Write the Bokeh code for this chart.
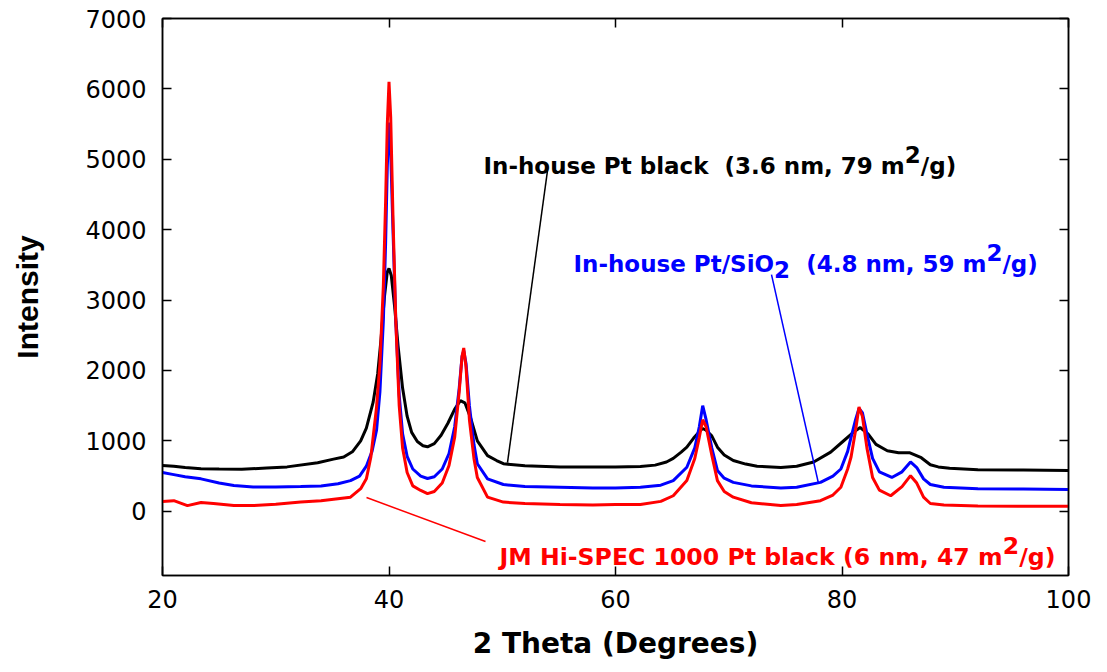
from bokeh.plotting import figure
from bokeh.models import Range1d, FixedTicker, LinearAxis, Label
from bokeh.embed import file_html
from bokeh.resources import INLINE

# ---------------- data ----------------
black_x = [20.0, 21.0, 22.0, 23.4, 25.0, 27.0, 29.2, 31.0, 33.7, 35.1, 36.0, 36.8, 37.5, 38.0, 38.6,
           39.0, 39.3, 39.6, 39.85, 40.0, 40.2, 40.5, 40.8, 41.2, 41.6, 42.0, 42.5, 43.0, 43.4, 44.0,
           44.6, 45.2, 45.8, 46.3, 46.7, 47.2, 47.8, 48.7, 49.5, 50.1, 52.0, 55.1, 58.0, 60.0, 62.2,
           63.5, 64.5, 65.1, 65.8, 66.3, 66.9, 67.4, 67.7, 68.0, 68.5, 69.0, 69.6, 70.4, 71.5, 72.5,
           74.6, 76.0, 77.5, 79.0, 80.0, 81.0, 81.6, 82.3, 83.0, 84.0, 85.0, 86.0, 87.0, 87.8, 88.5,
           89.5, 92.0, 96.0, 100.0]
black_y = [650, 640, 620, 605, 600, 595, 615, 630, 690, 740, 770, 850, 1000, 1180, 1550,
           1950, 2450, 3050, 3400, 3450, 3350, 2900, 2350, 1750, 1350, 1120, 990, 930, 915, 960,
           1080, 1250, 1450, 1570, 1540, 1330, 1000, 790, 720, 675, 645, 630, 630, 630, 635,
           655, 700, 750, 840, 910, 1040, 1130, 1175, 1150, 1070, 910, 800, 720, 670, 640,
           620, 640, 700, 840, 980, 1120, 1190, 1100, 950, 860, 830, 830, 760, 660, 630,
           610, 590, 585, 580]

blue_x = [20.0, 21.0, 22.0, 23.4, 25.0, 26.3, 28.0, 30.0, 32.2, 34.0, 35.5, 36.6, 37.4, 38.0, 38.5,
          38.9, 39.2, 39.5, 39.7, 39.85, 40.0, 40.15, 40.35, 40.6, 40.9, 41.2, 41.6, 42.1, 42.8, 43.4,
          44.0, 44.7, 45.3, 45.8, 46.2, 46.45, 46.6, 46.8, 47.1, 47.5, 47.8, 48.7, 50.1, 52.0, 55.1,
          58.0, 60.0, 62.2, 64.0, 65.1, 66.3, 67.0, 67.4, 67.7, 68.0, 68.5, 69.0, 69.6, 70.4, 72.0,
          74.6, 76.0, 78.1, 79.2, 79.9, 80.5, 80.8, 81.2, 81.5, 81.8, 82.2, 82.7, 83.3, 84.4, 85.3,
          86.05, 86.6, 87.2, 87.8, 89.0, 92.0, 96.0, 100.0]
blue_y = [550, 520, 490, 460, 400, 365, 345, 345, 350, 360, 390, 435, 500, 640, 850,
          1150, 1700, 2700, 3800, 4900, 5520, 5100, 4000, 2700, 1650, 1100, 780, 600, 500, 465,
          490, 600, 820, 1200, 1750, 2200, 2280, 2100, 1500, 950, 675, 460, 380, 350, 340,
          330, 330, 340, 370, 435, 625, 900, 1200, 1500, 1300, 900, 580, 470, 410, 360,
          330, 340, 410, 500, 600, 850, 1050, 1300, 1460, 1400, 1100, 750, 560, 480, 560,
          700, 620, 460, 380, 340, 320, 315, 310]

red_x = [20.0, 21.0, 22.2, 23.4, 24.5, 26.3, 28.0, 30.0, 32.2, 34.0, 36.6, 37.5, 38.0, 38.4, 38.9,
         39.2, 39.5, 39.7, 39.85, 40.0, 40.15, 40.35, 40.6, 40.9, 41.2, 41.6, 42.1, 42.8, 43.4, 44.0,
         44.7, 45.3, 45.8, 46.2, 46.45, 46.6, 46.8, 47.1, 47.5, 47.8, 48.7, 50.1, 52.0, 55.1, 58.0,
         60.0, 62.2, 64.0, 65.1, 66.3, 67.0, 67.4, 67.7, 68.0, 68.5, 69.0, 69.6, 70.4, 72.0, 74.6,
         76.0, 78.1, 79.2, 79.9, 80.5, 80.8, 81.2, 81.5, 81.8, 82.2, 82.7, 83.3, 84.3, 85.3, 86.05,
         86.6, 87.2, 87.8, 89.0, 92.0, 96.0, 100.0]
red_y = [140, 150, 80, 125, 110, 80, 80, 100, 130, 150, 200, 320, 460, 770, 1480,
         2100, 3200, 4400, 5500, 6100, 5600, 4200, 2700, 1500, 900, 550, 360, 295, 250, 280,
         400, 650, 1050, 1700, 2200, 2320, 2050, 1300, 750, 480, 200, 130, 110, 95, 90,
         95, 95, 140, 220, 435, 750, 1050, 1300, 1200, 800, 435, 280, 200, 120, 80,
         95, 150, 230, 340, 600, 770, 1150, 1480, 1350, 900, 480, 300, 220, 350, 505,
         400, 200, 110, 90, 75, 70, 70]

x_ticks = [20, 40, 60, 80, 100]
y_ticks = [0, 1000, 2000, 3000, 4000, 5000, 6000, 7000]

NB = "\u00a0"
black_label = ["In-house Pt black" + NB + NB + "(3.6 nm, 79 m", "2", "/g)"]
blue_label = ["In-house Pt/SiO", "2", NB + NB + "(4.8 nm, 59 m", "2", "/g)"]
red_label = ["JM Hi-SPEC 1000 Pt black (6 nm, 47 m", "2", "/g)"]

# ---------------- styling helpers ----------------
BOLD_W = {' ': 0.348, NB: 0.348, '(': 0.457, ')': 0.457, ',': 0.380, '-': 0.416, '.': 0.380,
          '/': 0.366, 'C': 0.734, 'E': 0.683, 'H': 0.838, 'I': 0.372, 'J': 0.372, 'M': 0.995,
          'O': 0.850, 'P': 0.733, 'S': 0.720, 'a': 0.675, 'b': 0.716, 'c': 0.593, 'e': 0.678,
          'g': 0.716, 'h': 0.712, 'i': 0.343, 'k': 0.665, 'l': 0.343, 'm': 1.042, 'n': 0.712,
          'o': 0.687, 's': 0.595, 't': 0.478, 'u': 0.712}


def text_w(s, fs):
    return sum(BOLD_W.get(c, 0.696) for c in s) * fs


X0, X1, Y0, Y1 = 20, 100, -913, 7000
p = figure(width=1107, height=672, output_backend="svg", toolbar_location=None,
           x_range=Range1d(X0, X1), y_range=Range1d(Y0, Y1),
           min_border_left=162, min_border_right=39, min_border_top=18, min_border_bottom=97,
           background_fill_color="white", border_fill_color="white")
p.grid.visible = False
p.outline_line_color = "black"
p.outline_line_width = 1.5

TICK_FONT = "DejaVu Sans"
for ax in (p.xaxis[0], p.yaxis[0]):
    ax.major_tick_in = 9
    ax.major_tick_out = 0
    ax.minor_tick_line_color = None
    ax.axis_line_width = 1.5
    ax.major_tick_line_width = 1.5
    ax.major_label_text_font = TICK_FONT
    ax.major_label_text_font_size = "24px"
    ax.major_label_text_color = "black"
    ax.axis_label_text_font_style = "bold"
    ax.axis_label_text_color = "black"

p.xaxis[0].ticker = FixedTicker(ticks=x_ticks)
p.yaxis[0].ticker = FixedTicker(ticks=y_ticks)
p.xaxis[0].axis_label = "2 Theta (Degrees)"
p.xaxis[0].axis_label_text_font = "DejaVu Sans"
p.xaxis[0].axis_label_text_font_size = "28px"
p.xaxis[0].major_label_standoff = 14
p.xaxis[0].axis_label_standoff = 16
p.yaxis[0].axis_label = "Intensity"
p.yaxis[0].axis_label_text_font = "Liberation Sans"
p.yaxis[0].axis_label_text_font_size = "30px"
p.yaxis[0].major_label_standoff = 16
p.yaxis[0].axis_label_standoff = 38

top = LinearAxis(ticker=FixedTicker(ticks=x_ticks), major_label_text_color=None,
                 major_label_text_font_size="1px",
                 major_tick_in=9, major_tick_out=0, minor_tick_line_color=None,
                 axis_line_width=1.5, major_tick_line_width=1.5)
right = LinearAxis(ticker=FixedTicker(ticks=y_ticks), major_label_text_color=None,
                   major_label_text_font_size="1px",
                   major_tick_in=9, major_tick_out=0, minor_tick_line_color=None,
                   axis_line_width=1.5, major_tick_line_width=1.5)
p.add_layout(top, "above")
p.add_layout(right, "right")

# ---------------- curves ----------------
p.line(black_x, black_y, line_color="#000000", line_width=3)
p.line(blue_x, blue_y, line_color="#0000FF", line_width=3)
p.line(red_x, red_y, line_color="#FF0000", line_width=3)


# ---------------- annotations ----------------
def px2x(px):
    return X0 + (px - 162) / 11.325


def px2y(py):
    return (510.7 - py) * 1000 / 70.4


# leader lines
p.segment(x0=[px2x(547)], y0=[px2y(170)], x1=[px2x(507)], y1=[px2y(462)], line_color="black", line_width=1.5)
p.segment(x0=[px2x(771)], y0=[px2y(274)], x1=[px2x(818)], y1=[px2y(483)], line_color="#0000FF", line_width=1.5)
p.segment(x0=[px2x(366)], y0=[px2y(497)], x1=[px2x(485)], y1=[px2y(541)], line_color="#FF0000", line_width=1.5)


def put(s, left_px, base_py, dy, color, fs):
    p.add_layout(Label(x=px2x(left_px), y=px2y(base_py), y_offset=dy, text=s,
                       text_font="DejaVu Sans", text_font_style="bold",
                       text_font_size=f"{fs}px", text_color=color,
                       text_baseline="alphabetic", text_align="left"))


def flow(pieces, shifts, start_px, base_py, color, fs=23):
    off = start_px
    for s, dy in zip(pieces, shifts):
        put(s, off, base_py, dy, color, fs)
        off += text_w(s, fs)


flow(black_label, [0, 11, 0], 483, 165, "#000000")
flow(blue_label, [0, -6, 0, 11, 0], 573, 263, "#0000FF")
flow(red_label, [0, 11, 0], 499, 556, "#FF0000", fs=23.6)

open("out.html", "w").write(file_html(p, INLINE))
